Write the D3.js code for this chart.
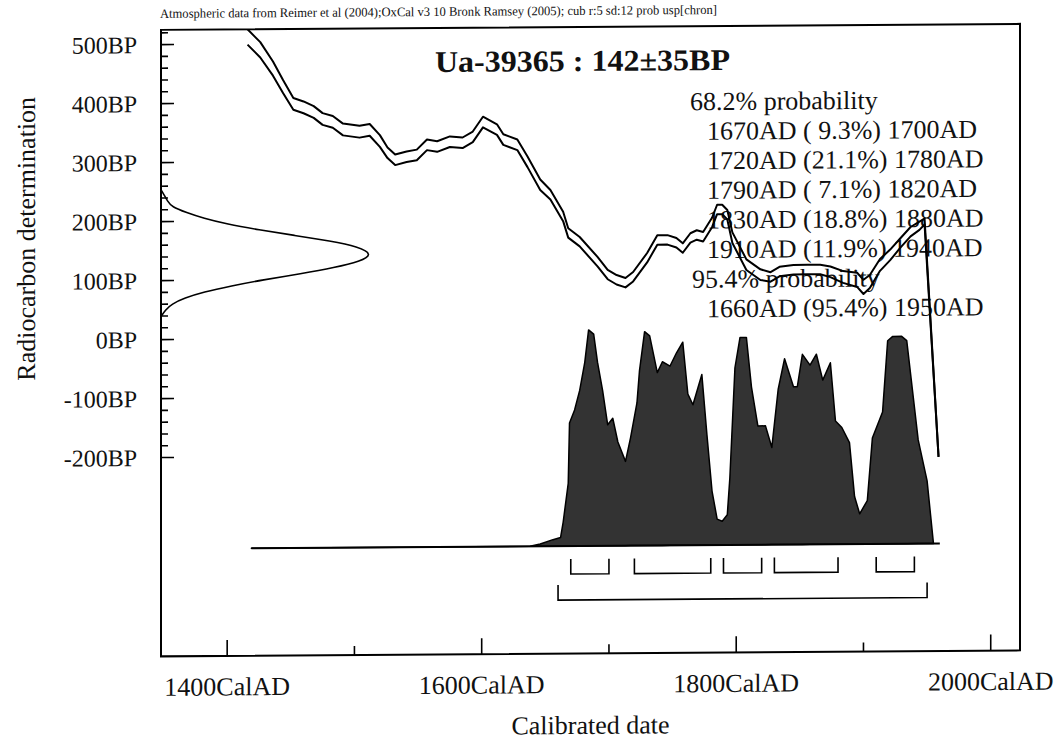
<!DOCTYPE html>
<html>
<head>
<meta charset="utf-8">
<script src="https://cdn.jsdelivr.net/npm/d3@7/dist/d3.min.js"></script>
<style>
  body { margin: 0; background: #fff; }
  text { font-family: "Liberation Serif", "Times New Roman", serif; fill: #111; }
</style>
</head>
<body>
<div class="chart"></div>
<script>
// calibration curve (IntCal04 section), cal AD vs 14C BP, 1 sigma band
const calYears = [1416, 1426, 1436, 1444, 1452, 1460, 1468, 1475, 1483, 1491, 1504, 1512, 1520, 1526, 1532,
  1541, 1549, 1557, 1565, 1575, 1585, 1593, 1601, 1612, 1617, 1628, 1636, 1646, 1654, 1664, 1668, 1677,
  1691, 1699, 1706, 1713, 1719, 1730, 1738, 1746, 1753, 1758, 1764, 1769, 1774, 1781, 1785, 1789, 1793,
  1797, 1808, 1819, 1827, 1834, 1845, 1856, 1866, 1874, 1884, 1895, 1900, 1905, 1913, 1921, 1929, 1937,
  1944, 1948, 1959];
const curveBP = [512, 490, 458, 427, 398, 392, 384, 372, 367, 354, 350, 353, 334, 314, 302,
  307, 310, 327, 324, 332, 330, 340, 365, 352, 335, 326, 297, 258, 241, 204, 176, 161,
  127, 105, 96, 91, 101, 133, 163, 163, 158, 149, 166, 171, 168, 192, 214, 214, 205,
  166, 120, 103, 99, 108, 111, 111, 111, 107, 98, 93, 81, 90, 118, 135, 155, 174,
  184, 191, -208];
const curveSigma = [13, 13, 12, 11, 10, 10, 10, 10, 10, 10, 10, 10, 10, 9, 9,
  9, 9, 9, 9, 9, 9, 9, 9, 9, 9, 9, 9, 9, 8, 8, 8, 8,
  8, 8, 8, 8, 8, 8, 8, 8, 8, 8, 8, 8, 8, 8, 8, 8, 8,
  9, 9, 9, 8, 8, 8, 8, 8, 9, 10, 12, 12, 11, 10, 9, 8, 8,
  7, 5, 0];

// measured date Ua-39365 : 142±35BP, shape on the y axis
const measLevels = [254, 245, 235, 225, 215, 205, 195, 185, 175, 165, 155, 142, 130, 120, 110, 100, 90, 80, 70, 60, 50, 39];
const measDensity = [0, 0.015, 0.03, 0.05, 0.12, 0.2, 0.31, 0.46, 0.63, 0.8, 0.93, 1, 0.94, 0.82, 0.66, 0.48, 0.33, 0.2, 0.11, 0.05, 0.02, 0];

// calibrated probability distribution
const distYears = [1419, 1638, 1646, 1656, 1662, 1664, 1668, 1669, 1673, 1677, 1681, 1684, 1688, 1691, 1695,
  1699, 1703, 1707, 1713, 1717, 1722, 1724, 1728, 1732, 1738, 1742, 1748, 1753, 1758, 1762, 1766, 1773,
  1777, 1781, 1785, 1789, 1793, 1795, 1799, 1803, 1808, 1812, 1817, 1823, 1828, 1833, 1838, 1845, 1848,
  1852, 1858, 1863, 1868, 1874, 1878, 1883, 1889, 1893, 1897, 1903, 1907, 1915, 1919, 1923, 1930, 1934,
  1943, 1950, 1955];
const distProb = [0, 0, 0.01, 0.03, 0.04, 0.11, 0.29, 0.57, 0.63, 0.72, 0.85, 1, 0.98, 0.85, 0.72,
  0.56, 0.59, 0.48, 0.39, 0.5, 0.66, 0.81, 0.99, 0.97, 0.8, 0.85, 0.83, 0.89, 0.94, 0.7, 0.65, 0.79,
  0.51, 0.25, 0.12, 0.11, 0.14, 0.31, 0.82, 0.96, 0.96, 0.73, 0.55, 0.55, 0.45, 0.72, 0.86, 0.73, 0.73,
  0.88, 0.83, 0.88, 0.76, 0.84, 0.57, 0.54, 0.47, 0.22, 0.14, 0.2, 0.49, 0.61, 0.94, 0.96, 0.96, 0.94,
  0.48, 0.29, 0];
const distBaseline = [1419, 1960];

// ranges
const range68From = [1670, 1720, 1790, 1830, 1910];
const range68To = [1700, 1780, 1820, 1880, 1940];
const range68Pct = [" 9.3", "21.1", " 7.1", "18.8", "11.9"];
const range95From = [1660];
const range95To = [1950];
const range95Pct = ["95.4"];

const xTicks = [1400, 1500, 1600, 1700, 1800, 1900, 2000];
const xTickLabels = [1400, 1600, 1800, 2000];
const yTickLabels = [500, 400, 300, 200, 100, 0, -100, -200];

const width = 1064, height = 749;
const plotLeft = 161, plotRight = 1020, plotTop = 31, plotBottom = 657.5;

const svg = d3.select(".chart")
  .append("svg")
  .attr("width", width)
  .attr("height", height);

// the scan is slightly skewed
const g = svg.append("g").attr("transform", "skewY(-0.4)");

const x = d3.scaleLinear().domain([1348, 2023]).range([plotLeft, plotRight]);
const y = d3.scaleLinear().domain([-537, 525]).range([plotBottom, plotTop]);
const densX = d3.scaleLinear().domain([0, 1]).range([plotLeft, 373]);
const probY = d3.scaleLinear().domain([0, 1]).range([550, 334]);

g.append("clipPath").attr("id", "frameClip")
  .append("rect")
  .attr("x", plotLeft).attr("y", plotTop)
  .attr("width", plotRight - plotLeft).attr("height", plotBottom - plotTop);

// header
g.append("text")
  .attr("x", 160).attr("y", 19)
  .attr("font-size", 13)
  .attr("textLength", 557)
  .attr("lengthAdjust", "spacingAndGlyphs")
  .text("Atmospheric data from Reimer et al (2004);OxCal v3 10 Bronk Ramsey (2005); cub r:5 sd:12 prob usp[chron]");

// calibrated distribution
const area = d3.area()
  .x((d, i) => x(distYears[i]))
  .y0(probY(0))
  .y1(d => probY(d));

g.append("path")
  .datum(distProb)
  .attr("d", area)
  .attr("fill", "#333")
  .attr("stroke", "#000")
  .attr("stroke-width", 1.5)
  .attr("stroke-linejoin", "round");

g.append("line")
  .attr("x1", x(distBaseline[0])).attr("x2", x(distBaseline[1]))
  .attr("y1", probY(0)).attr("y2", probY(0))
  .attr("stroke", "#000")
  .attr("stroke-width", 2);

// range brackets
function brackets(from, to, yTop, yBot) {
  g.selectAll(null)
    .data(from)
    .enter()
    .append("path")
    .attr("d", (d, i) => "M" + x(d) + "," + yTop + "V" + yBot + "H" + x(to[i]) + "V" + yTop)
    .attr("fill", "none")
    .attr("stroke", "#000")
    .attr("stroke-width", 1.6);
}
brackets(range68From, range68To, 563, 578);
brackets(range95From, range95To, 589, 604);

// probability text
const textX = 690, rangeX = 707, lineH = 29.6, firstY = 115;
const lines = [];
lines.push({x: textX, t: "68.2% probability"});
range68From.forEach((d, i) => lines.push({x: rangeX, t: d + "AD (" + range68Pct[i] + "%) " + range68To[i] + "AD"}));
lines.push({x: textX + 2, t: "95.4% probability"});
range95From.forEach((d, i) => lines.push({x: rangeX, t: d + "AD (" + range95Pct[i] + "%) " + range95To[i] + "AD"}));

g.selectAll(".prob")
  .data(lines)
  .enter()
  .append("text")
  .attr("class", "prob")
  .attr("x", d => d.x)
  .attr("y", (d, i) => firstY + i * lineH)
  .attr("font-size", 26)
  .style("white-space", "pre")
  .text(d => d.t);

// calibration curve, two lines at +/- 1 sigma
const curveG = g.append("g").attr("clip-path", "url(#frameClip)");
[1, -1].forEach(function (s) {
  const line = d3.line()
    .x((d, i) => x(calYears[i]))
    .y((d, i) => y(d + s * curveSigma[i]));
  curveG.append("path")
    .datum(curveBP)
    .attr("d", line)
    .attr("fill", "none")
    .attr("stroke", "#000")
    .attr("stroke-width", 2)
    .attr("stroke-linejoin", "round");
});

// measured date on y axis
const measLine = d3.line()
  .x((d, i) => densX(measDensity[i]))
  .y(d => y(d))
  .curve(d3.curveBasis);

g.append("path")
  .datum(measLevels)
  .attr("d", measLine)
  .attr("fill", "none")
  .attr("stroke", "#000")
  .attr("stroke-width", 1.6);

// title
g.append("text")
  .attr("x", 435).attr("y", 75)
  .attr("font-size", 30)
  .attr("font-weight", "bold")
  .attr("textLength", 295)
  .attr("lengthAdjust", "spacingAndGlyphs")
  .text("Ua-39365 : 142±35BP");

// frame
g.append("rect")
  .attr("x", plotLeft).attr("y", plotTop)
  .attr("width", plotRight - plotLeft).attr("height", plotBottom - plotTop)
  .attr("fill", "none")
  .attr("stroke", "#000")
  .attr("stroke-width", 2);

// y ticks
g.selectAll(".ytick")
  .data(d3.range(-200, 521, 20))
  .enter()
  .append("line")
  .attr("x1", plotLeft)
  .attr("x2", d => plotLeft + (d % 100 === 0 ? 13 : 7))
  .attr("y1", d => y(d)).attr("y2", d => y(d))
  .attr("stroke", "#000")
  .attr("stroke-width", 1.6);

g.selectAll(".ylab")
  .data(yTickLabels)
  .enter()
  .append("text")
  .attr("x", 137)
  .attr("y", d => y(d))
  .attr("dy", "0.35em")
  .attr("text-anchor", "end")
  .attr("font-size", 24)
  .text(d => d + "BP");

// x ticks
g.selectAll(".xtick")
  .data(xTicks)
  .enter()
  .append("line")
  .attr("x1", d => x(d)).attr("x2", d => x(d))
  .attr("y1", plotBottom)
  .attr("y2", d => plotBottom - (d % 200 === 0 ? 16 : 9))
  .attr("stroke", "#000")
  .attr("stroke-width", 1.6);

g.selectAll(".xlab")
  .data(xTickLabels)
  .enter()
  .append("text")
  .attr("x", d => x(d))
  .attr("y", 697)
  .attr("text-anchor", "middle")
  .attr("font-size", 26)
  .text(d => d + "CalAD");

// axis titles
g.append("text")
  .attr("transform", "translate(35,239) rotate(-90)")
  .attr("text-anchor", "middle")
  .attr("font-size", 26)
  .text("Radiocarbon determination");

g.append("text")
  .attr("x", (plotLeft + plotRight) / 2).attr("y", 738)
  .attr("text-anchor", "middle")
  .attr("font-size", 26)
  .text("Calibrated date");
</script>
</body>
</html>
